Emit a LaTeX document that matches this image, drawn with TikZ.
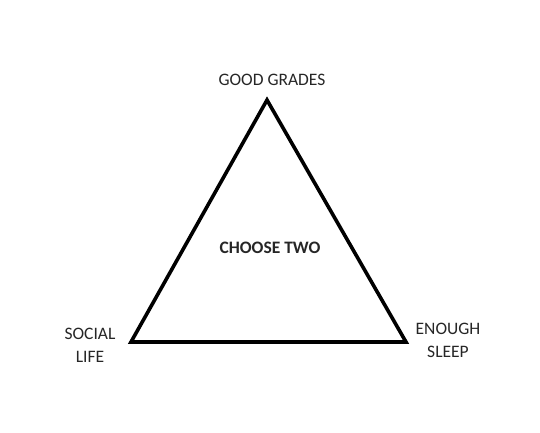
\documentclass[tikz,border=0pt]{standalone}
\usepackage{fontspec}
\setmainfont{Carlito}
\usepackage{tikz}
\usetikzlibrary{positioning}

\begin{document}
\begin{tikzpicture}[x=1pt,y=1pt,>=latex,
	lbl/.style={align=center,text=black!85,font=\fontsize{17.5}{23}\selectfont}]
	\useasboundingbox (0,0) rectangle (540,432);
	%\draw [help lines] (0,0) grid (540,432);
	\coordinate (grades) at (267,332);
	\coordinate (social) at (131,90);
	\coordinate (sleep) at (406,90);
	\draw [line width=3.6pt, line join=miter] (grades) -- (social) -- (sleep) -- cycle;

	\node [lbl] (gg) at (272,352) {GOOD GRADES};
	\node [lbl] (sl) at (90,87) {SOCIAL\\LIFE};
	\node [lbl] (es) at (448,92) {ENOUGH\\SLEEP};
	\node [lbl, font=\bfseries\fontsize{17.5}{23}\selectfont] (ct) at (270,184) {CHOOSE TWO};
\end{tikzpicture}
\end{document}
